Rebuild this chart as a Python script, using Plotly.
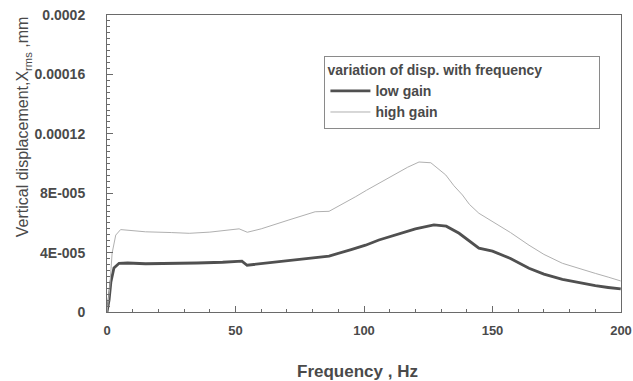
import plotly.graph_objects as go

freq_low = [0, 0.8, 1.5, 2.7, 4.7, 8, 15, 25, 35, 45, 50, 52.5, 54.5, 60, 70.8, 80, 86.4, 95, 100.6, 105.8, 109.7, 115, 120, 127.2, 132, 137, 141, 144.7, 150, 157, 164.2, 170, 177.2, 183, 190, 195, 199.9]
disp_low = [0, 8e-6, 20e-6, 29.6e-6, 32.8e-6, 33e-6, 32.5e-6, 32.6e-6, 33e-6, 33.5e-6, 33.8e-6, 34.3e-6, 31.5e-6, 32.5e-6, 34.5e-6, 36.5e-6, 37.7e-6, 42e-6, 45e-6, 48.5e-6, 50.7e-6, 53.5e-6, 56e-6, 58.6e-6, 57.8e-6, 53e-6, 47.5e-6, 43e-6, 41e-6, 36e-6, 29.4e-6, 25.5e-6, 22e-6, 20e-6, 17.7e-6, 16.5e-6, 15.5e-6]

freq_high = [0, 1, 2, 3.4, 5.3, 8, 15, 25, 32, 40, 48, 51.4, 54.6, 60, 70.8, 78, 81, 86.4, 91, 96.8, 101, 107, 112, 117, 121.4, 126, 131.8, 135, 138.3, 141, 144.7, 151.2, 157, 164.2, 170, 177.2, 183, 190, 195, 199.9]
disp_high = [0, 15e-6, 39.7e-6, 51.8e-6, 55.5e-6, 55e-6, 54e-6, 53.5e-6, 53e-6, 53.8e-6, 55e-6, 56e-6, 53.7e-6, 56e-6, 62e-6, 66e-6, 67.5e-6, 67.8e-6, 72e-6, 77.7e-6, 82e-6, 87.8e-6, 92.5e-6, 97.5e-6, 101e-6, 100.5e-6, 92.3e-6, 85e-6, 78.8e-6, 72.5e-6, 66.5e-6, 59.7e-6, 53.5e-6, 45e-6, 38.8e-6, 32.8e-6, 29.5e-6, 26e-6, 23.5e-6, 20.9e-6]

y_tickvals = [0, 4e-5, 8e-5, 12e-5, 16e-5, 2e-4]
y_ticktext = ["0", "4E-005", "8E-005", "0.00012", "0.00016", "0.0002"]
x_tickvals = [0, 50, 100, 150, 200]
x_ticktext = ["0", "50", "100", "150", "200"]

txt = "#4a4a4a"
axc = "#6a6a6a"
font = dict(family="Liberation Sans, Arial, sans-serif", size=14, color=txt)

fig = go.Figure()
fig.add_trace(go.Scatter(x=freq_low, y=disp_low, mode="lines", name="<b>low gain</b>",
                         line=dict(color="#505050", width=2.8)))
fig.add_trace(go.Scatter(x=freq_high, y=disp_high, mode="lines", name="<b>high gain</b>",
                         line=dict(color="#b0b0b0", width=1)))

fig.update_layout(
    width=633, height=381,
    margin=dict(l=107, r=12, t=15, b=69),
    paper_bgcolor="white", plot_bgcolor="white",
    font=font,
    showlegend=True,
    legend=dict(
        title=dict(text="<b>variation of disp. with frequency</b>" + "\u00a0" * 14,
                   font=dict(size=14, color=txt)),
        x=0.423, y=0.862, xanchor="left", yanchor="top",
        bordercolor="#8a8a8a", borderwidth=1, bgcolor="white",
        font=dict(size=14, color=txt), tracegroupgap=0, itemwidth=40,
    ),
    xaxis=dict(
        range=[0, 200], tickmode="array", tickvals=x_tickvals, ticktext=[f"<b>{t}</b>" for t in x_ticktext],
        showline=True, linecolor=axc, linewidth=1, mirror=True,
        ticks="inside", ticklen=6, tickcolor=axc,
        minor=dict(tickmode="linear", tick0=0, dtick=10, ticks="inside", ticklen=3, tickcolor=axc),
        showgrid=False, zeroline=False, ticklabelstandoff=6, automargin=False,
        ticklabeloverflow="allow",
        tickfont=dict(size=13, color=txt),
    ),
    yaxis=dict(
        range=[0, 2e-4], tickmode="array", tickvals=y_tickvals, ticktext=[f"<b>{t}</b>" for t in y_ticktext],
        showline=True, linecolor=axc, linewidth=1, mirror=True,
        ticks="inside", ticklen=6, tickcolor=axc,
        minor=dict(tickmode="linear", tick0=0, dtick=4e-6, ticks="inside", ticklen=3, tickcolor=axc),
        showgrid=False, zeroline=False, ticklabelstandoff=18, automargin=False,
        ticklabeloverflow="allow",
        tickfont=dict(size=14, color=txt),
    ),
    annotations=[
        dict(text="<b>Frequency , Hz</b>", xref="paper", yref="paper", x=0.488, y=-0.199,
             xanchor="center", yanchor="middle", showarrow=False, font=dict(size=17, color=txt)),
        dict(text="Vertical displacement,X<sub>rms</sub> ,mm", xref="paper", yref="paper",
             x=-0.161, y=0.623, xanchor="center", yanchor="middle", textangle=-90,
             showarrow=False, font=dict(size=16, color=txt)),
    ],
)

fig.write_html("out.html")
